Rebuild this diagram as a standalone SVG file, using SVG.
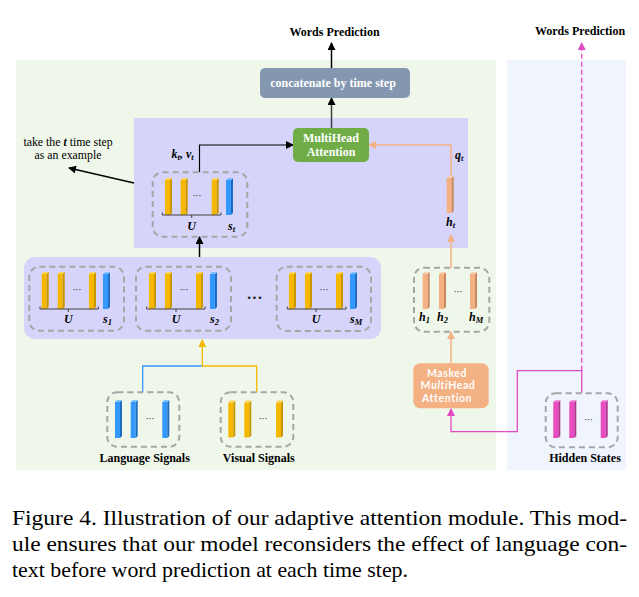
<svg xmlns="http://www.w3.org/2000/svg" width="639" height="597" viewBox="0 0 639 597">
<style>
.lbl{font-family:"Liberation Serif","Times New Roman",serif;font-weight:bold;font-size:12px;fill:#000}
.wbox{font-family:"Liberation Serif","Times New Roman",serif;font-weight:bold;fill:#fff}
.math{font-family:"Liberation Serif","Times New Roman",serif;font-weight:bold;font-style:italic;font-size:12px;fill:#000}
.sub{font-size:8.5px}
.dash{fill:none;stroke:#a6a6a6;stroke-width:2;stroke-dasharray:6 4}
.brk{fill:none;stroke:#404040;stroke-width:1}
.dots{font-family:"DejaVu Sans",sans-serif;font-size:9px;fill:#222}
.cap{font-family:"Liberation Serif","Times New Roman",serif;font-size:22px;fill:#000}
.note{font-family:"Liberation Serif","Times New Roman",serif;font-size:11.8px;fill:#000}
</style>
<defs>
<g id="barO"><rect x="0" y="2" width="5" height="35" fill="#f5b800"/><polygon points="5,2 7,0 7,35 5,37" fill="#c99600"/><polygon points="0,2 2,0 7,0 5,2" fill="#ffd34d"/></g>
<g id="barB"><rect x="0" y="2" width="5" height="35" fill="#3399ff"/><polygon points="5,2 7,0 7,35 5,37" fill="#1f6cc0"/><polygon points="0,2 2,0 7,0 5,2" fill="#7fc0ff"/></g>
<g id="barL"><rect x="0" y="2" width="5" height="36" fill="#3399ff"/><polygon points="5,2 7,0 7,36 5,38" fill="#1f6cc0"/><polygon points="0,2 2,0 7,0 5,2" fill="#7fc0ff"/></g>
<g id="barP"><rect x="0" y="2" width="5" height="35" fill="#f4b183"/><polygon points="5,2 7,0 7,35 5,37" fill="#c68a5e"/><polygon points="0,2 2,0 7,0 5,2" fill="#f9cfb0"/></g>
<g id="barK"><rect x="0" y="2" width="5" height="36" fill="#e84cc0"/><polygon points="5,2 7,0 7,36 5,38" fill="#b33290"/><polygon points="0,2 2,0 7,0 5,2" fill="#f28ad8"/></g>
<marker id="aBlk" markerWidth="8" markerHeight="8" refX="7" refY="4" orient="auto" markerUnits="userSpaceOnUse"><path d="M0,0 L8,4 L0,8 Z" fill="#000"/></marker>
<marker id="aPch" markerWidth="8" markerHeight="8" refX="7" refY="4" orient="auto" markerUnits="userSpaceOnUse"><path d="M0,0 L8,4 L0,8 Z" fill="#f4b183"/></marker>
<marker id="aOrg" markerWidth="8" markerHeight="8" refX="7" refY="4" orient="auto" markerUnits="userSpaceOnUse"><path d="M0,0 L8,4 L0,8 Z" fill="#f5b800"/></marker>
<marker id="aPnk" markerWidth="8" markerHeight="8" refX="7" refY="4" orient="auto" markerUnits="userSpaceOnUse"><path d="M0,0 L8,4 L0,8 Z" fill="#e04cc0"/></marker>
</defs>

<!-- panels -->
<g id="panels">
<rect x="16" y="60" width="480" height="410" fill="#eff7ea"/>
<rect x="507" y="60" width="119" height="410" fill="#f0f5fd"/>
<rect x="134" y="118" width="334" height="130" fill="#d6d4fb"/>
<rect x="24" y="257" width="357" height="82" rx="11" fill="#d6d4fb"/>
</g>

<!-- connectors -->
<g id="connectors" fill="none">
<line x1="331.5" y1="68" x2="331.5" y2="43" stroke="#000" stroke-width="1.5" marker-end="url(#aBlk)"/>
<line x1="331.5" y1="128" x2="331.5" y2="98" stroke="#404040" stroke-width="1.5" marker-end="url(#aBlk)"/>
<polyline points="199.5,172 199.5,145 293,145" stroke="#000" stroke-width="1.2" marker-end="url(#aBlk)"/>
<polyline points="451,176 451,145 369,145" stroke="#f4b183" stroke-width="1.5" marker-end="url(#aPch)"/>
<line x1="134" y1="183" x2="69" y2="168" stroke="#000" stroke-width="1.3" marker-end="url(#aBlk)"/>
<line x1="199.5" y1="257" x2="199.5" y2="237" stroke="#000" stroke-width="1.5" marker-end="url(#aBlk)"/>
<line x1="451" y1="268" x2="451" y2="235" stroke="#f4b183" stroke-width="1.5" marker-end="url(#aPch)"/>
<line x1="451" y1="363" x2="451" y2="332" stroke="#f4b183" stroke-width="1.5" marker-end="url(#aPch)"/>
<polyline points="142.7,392 142.7,366 202.3,366" stroke="#3399ff" stroke-width="1.3"/>
<polyline points="256.7,392 256.7,366 202.3,366 202.3,340" stroke="#f5b800" stroke-width="1.3" marker-end="url(#aOrg)"/>
<polyline points="581.7,393 581.7,370.7 517.3,370.7 517.3,431.7 451,431.7 451,409" stroke="#e04cc0" stroke-width="1.3" marker-end="url(#aPnk)"/>
<line x1="581.7" y1="370.7" x2="581.7" y2="43" stroke="#e04cc0" stroke-width="1.3" stroke-dasharray="5 3" marker-end="url(#aPnk)"/>
</g>

<!-- titles -->
<text class="lbl" x="334.5" y="35.5" text-anchor="middle">Words Prediction</text>
<text class="lbl" x="580" y="34.5" text-anchor="middle">Words Prediction</text>
<text class="note" x="68" y="145.5" text-anchor="middle">take the <tspan font-weight="bold" font-style="italic">t</tspan> time step</text>
<text class="note" x="68" y="159" text-anchor="middle">as an example</text>

<g id="concat">
<rect x="260" y="68" width="150" height="30" rx="5" fill="#8497b0"/>
<text class="wbox" x="333" y="86.5" font-size="12" text-anchor="middle">concatenate by time step</text>
</g>

<g id="multihead">
<rect x="293" y="128" width="76" height="34" rx="5" fill="#70ad47"/>
<text class="wbox" x="331" y="142" font-size="12" text-anchor="middle">MultiHead</text>
<text class="wbox" x="331" y="155.5" font-size="12" text-anchor="middle">Attention</text>
</g>

<g id="kv-label">
<text class="math" x="171.5" y="158">k<tspan class="sub" dy="2">t</tspan><tspan dy="-2">, v</tspan><tspan class="sub" dy="2">t</tspan></text>
</g>
<g id="q-label">
<text class="math" x="455" y="159">q<tspan class="sub" dy="2">t</tspan></text>
</g>

<g id="st-group">
<rect class="dash" x="152.7" y="172.3" width="94.6" height="64.4" rx="10"/>
<use href="#barO" x="165" y="178"/><use href="#barO" x="180.7" y="178"/><use href="#barO" x="211.7" y="178"/><use href="#barB" x="226" y="178"/>
<text class="dots" x="197" y="199" text-anchor="middle">···</text>
<path class="brk" d="M162.3,212.5 V215 H221 V212.5 M191.7,215 V218"/>
<text class="math" x="191.7" y="230" text-anchor="middle">U</text>
<text class="math" x="228" y="230">s<tspan class="sub" dy="2">t</tspan></text>
</g>

<g id="ht">
<use href="#barP" x="446.7" y="176"/>
<text class="math" x="446" y="226">h<tspan class="sub" dy="2">t</tspan></text>
</g>

<g id="g1">
<rect class="dash" x="29.3" y="266.7" width="94.7" height="64" rx="10"/>
<use href="#barO" x="41.7" y="272"/><use href="#barO" x="57.7" y="272"/><use href="#barO" x="89" y="272"/><use href="#barB" x="103" y="272"/>
<text class="dots" x="77" y="293" text-anchor="middle">···</text>
<path class="brk" d="M40,306.5 V309 H98.3 V306.5 M68.3,309 V312"/>
<text class="math" x="68.3" y="323" text-anchor="middle">U</text>
<text class="math" x="103" y="323">s<tspan class="sub" dy="2">1</tspan></text>
</g>

<g id="g2">
<rect class="dash" x="136" y="266.7" width="95" height="64" rx="10"/>
<use href="#barO" x="149" y="272"/><use href="#barO" x="165" y="272"/><use href="#barO" x="196" y="272"/><use href="#barB" x="210" y="272"/>
<text class="dots" x="184" y="293" text-anchor="middle">···</text>
<path class="brk" d="M146.7,306.5 V309 H205 V306.5 M176,309 V312"/>
<text class="math" x="176" y="323" text-anchor="middle">U</text>
<text class="math" x="210" y="323">s<tspan class="sub" dy="2">2</tspan></text>
</g>

<text class="dots" x="254.5" y="301" text-anchor="middle">•••</text>

<g id="g3">
<rect class="dash" x="276.7" y="266.7" width="94.3" height="64.3" rx="10"/>
<use href="#barO" x="289" y="272"/><use href="#barO" x="305" y="272"/><use href="#barO" x="336" y="272"/><use href="#barB" x="350" y="272"/>
<text class="dots" x="324" y="293" text-anchor="middle">···</text>
<path class="brk" d="M287.3,306.5 V309 H346 V306.5 M316,309 V312"/>
<text class="math" x="316" y="323" text-anchor="middle">U</text>
<text class="math" x="350" y="323">s<tspan class="sub" dy="2">M</tspan></text>
</g>

<g id="h-group">
<rect class="dash" x="414" y="267.7" width="75.3" height="64" rx="10"/>
<use href="#barP" x="422.7" y="272"/><use href="#barP" x="439" y="272"/><use href="#barP" x="470" y="272"/>
<text class="dots" x="458" y="295" text-anchor="middle">···</text>
<text class="math" x="419" y="321">h<tspan class="sub" dy="2">1</tspan></text>
<text class="math" x="437" y="321">h<tspan class="sub" dy="2">2</tspan></text>
<text class="math" x="469" y="321">h<tspan class="sub" dy="2">M</tspan></text>
</g>

<g id="masked">
<rect x="413.3" y="363.3" width="75.4" height="45" rx="7" fill="#f4b183"/>
<g font-family="Lato,sans-serif" font-weight="bold" font-size="10.5" fill="#fff" text-anchor="middle" letter-spacing="0.6">
<text x="447" y="376.5">Masked</text>
<text x="448" y="389">M<tspan font-style="italic">ulti</tspan>Head</text>
<text x="447" y="401.5">Attention</text>
</g>
</g>

<g id="language">
<rect class="dash" x="107.3" y="392.3" width="72" height="54.4" rx="10"/>
<use href="#barL" x="115" y="400"/><use href="#barL" x="130.7" y="400"/><use href="#barL" x="162.3" y="400"/>
<text class="dots" x="150" y="422" text-anchor="middle">···</text>
<text class="lbl" x="144.7" y="462" text-anchor="middle">Language Signals</text>
</g>

<g id="visual">
<rect class="dash" x="220.7" y="392.3" width="72.6" height="54.4" rx="10"/>
<use href="#barO" x="228.3" y="400.5"/><use href="#barO" x="244.3" y="400.5"/><use href="#barO" x="276" y="400.5"/>
<text class="dots" x="263" y="422" text-anchor="middle">···</text>
<text class="lbl" x="258.8" y="462" text-anchor="middle">Visual Signals</text>
</g>

<g id="hidden">
<rect class="dash" x="545.7" y="393.3" width="72" height="54" rx="10"/>
<use href="#barK" x="553.3" y="400"/><use href="#barK" x="569.3" y="400"/><use href="#barK" x="600.7" y="400"/>
<text class="dots" x="588.5" y="423" text-anchor="middle">···</text>
<text class="lbl" x="585" y="462" text-anchor="middle">Hidden States</text>
</g>

<g id="caption">
<text class="cap" x="12" y="525" textLength="615" lengthAdjust="spacingAndGlyphs">Figure 4. Illustration of our adaptive attention module. This mod-</text>
<text class="cap" x="12" y="551" textLength="615" lengthAdjust="spacingAndGlyphs">ule ensures that our model reconsiders the effect of language con-</text>
<text class="cap" x="12" y="577" textLength="396" lengthAdjust="spacingAndGlyphs">text before word prediction at each time step.</text>
</g>
</svg>
